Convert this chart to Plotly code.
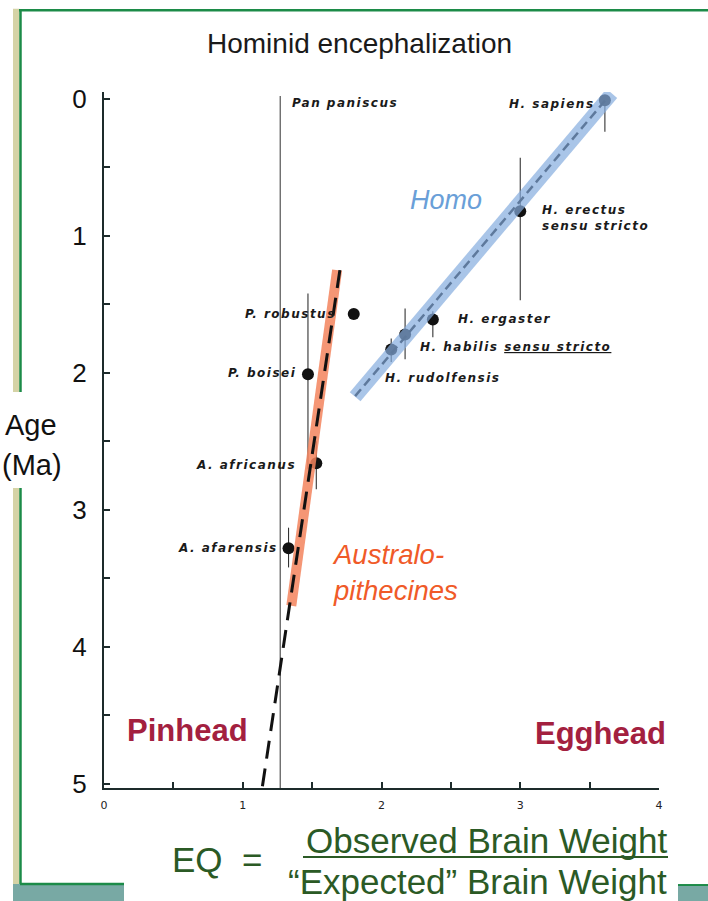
import plotly.graph_objects as go

# ---------------- data ----------------
species = ["H. sapiens", "H. erectus", "H. ergaster", "H. habilis", "H. rudolfensis",
           "P. robustus", "P. boisei", "A. africanus", "A. afarensis"]
eq_vals = [3.61, 3.00, 2.37, 2.17, 2.07, 1.80, 1.47, 1.53, 1.33]
age_vals = [0.01, 0.82, 1.61, 1.72, 1.83, 1.57, 2.01, 2.66, 3.28]
age_lo = [0.00, 0.43, 1.55, 1.53, 1.75, None, 1.42, 2.50, 3.13]
age_hi = [0.24, 1.47, 1.74, 1.90, 1.92, None, 2.70, 2.85, 3.42]

pan_eq = [1.27, 1.27]
pan_age = [-0.02, 5.03]

homo_band_eq = [1.81, 3.66]
homo_band_age = [2.175, -0.04]
homo_trend_eq = [1.81, 3.63]
homo_trend_age = [2.17, -0.01]

aus_band_eq = [1.68, 1.35]
aus_band_age = [1.25, 3.70]
aus_trend_eq = [1.70, 1.14]
aus_trend_age = [1.25, 5.03]

x_ticks = [0, 1, 2, 3, 4]
y_ticks = [0, 1, 2, 3, 4, 5]

# label text, EQ, age, anchor
species_labels = [
    ("Pan paniscus", 1.34, 0.03, "left"),
    ("H. sapiens", 3.55, 0.04, "right"),
    ("H. erectus<br>sensu stricto", 3.14, 0.87, "left"),
    ("P. robustus", 1.69, 1.57, "right"),
    ("H. ergaster", 2.54, 1.61, "left"),
    ("H. habilis <u>sensu stricto</u>", 2.26, 1.81, "left"),
    ("P. boisei", 1.40, 2.00, "right"),
    ("H. rudolfensis", 2.01, 2.04, "left"),
    ("A. africanus", 1.40, 2.67, "right"),
    ("A. afarensis", 1.27, 3.28, "right"),
]

# ---------------- geometry (pixels) ----------------
W, H = 708, 901
PL, PR, PT, PB = 104, 659, 92.2, 788
X_RANGE = [0, 4]
Y_RANGE = [5.03, -0.05]


def px(x):
    return (x - PL) / (PR - PL)


def py(y):
    return (PB - y) / (PB - PT)


fig = go.Figure()

# range bars
ex, ey = [], []
for e, lo, hi in zip(eq_vals, age_lo, age_hi):
    if lo is None:
        continue
    ex += [e, e, None]
    ey += [lo, hi, None]
fig.add_trace(go.Scatter(x=ex, y=ey, mode="lines",
                         line=dict(color="#333333", width=1.1), hoverinfo="skip"))
fig.add_trace(go.Scatter(x=pan_eq, y=pan_age, mode="lines",
                         line=dict(color="#444444", width=1.1), hoverinfo="skip"))

# points
fig.add_trace(go.Scatter(x=eq_vals, y=age_vals, mode="markers", text=species,
                         marker=dict(color="#111111", size=12)))

# Homo trend
fig.add_trace(go.Scatter(x=homo_trend_eq, y=homo_trend_age, mode="lines",
                         line=dict(color="#000000", width=2.5, dash="9px,5px")))
fig.add_trace(go.Scatter(x=homo_band_eq, y=homo_band_age, mode="lines", opacity=0.7,
                         line=dict(color="#86ADDF", width=14)))

# Australopithecine trend
fig.add_trace(go.Scatter(x=aus_band_eq, y=aus_band_age, mode="lines", opacity=0.85,
                         line=dict(color="#F4845E", width=10)))
fig.add_trace(go.Scatter(x=aus_trend_eq, y=aus_trend_age, mode="lines",
                         line=dict(color="#111111", width=3, dash="18px,10px")))

SP = '<span style="letter-spacing:1.5px">'
ann = []
for text, x, y, anc in species_labels:
    ann.append(dict(x=x, y=y, text=SP + text.replace("<br>", "</span><br>" + SP) + "</span>",
                    xanchor=anc, yanchor="middle", align="left",
                    showarrow=False,
                    font=dict(family="DejaVu Sans", size=12, style="italic", weight="bold",
                              color="#1a1a1a")))

ann += [
    dict(x=2.19, y=0.74, text="Homo", xanchor="left", yanchor="middle", showarrow=False,
         font=dict(family="Liberation Sans", size=27, style="italic", color="#6A9FD8")),
    dict(x=1.63, y=3.455, text="Australo-<br>pithecines", xanchor="left", yanchor="middle",
         align="left", showarrow=False,
         font=dict(family="Liberation Sans", size=27.5, style="italic", color="#F05A28")),
    dict(x=0.605, y=4.61, text="<b>Pinhead</b>", showarrow=False, xanchor="center",
         yanchor="middle", font=dict(family="Liberation Sans", size=31, color="#A3203F")),
    dict(x=3.58, y=4.63, text="<b>Egghead</b>", showarrow=False, xanchor="center",
         yanchor="middle", font=dict(family="Liberation Sans", size=31, color="#A3203F")),
]

# paper-level texts
green = "#2B5A25"
ann += [
    dict(xref="paper", yref="paper", x=px(359), y=py(44), text="Hominid encephalization",
         xanchor="center", yanchor="middle", showarrow=False,
         font=dict(family="Liberation Sans", size=28, color="#1a1a1a")),
    dict(xref="paper", yref="paper", x=px(59), y=py(425), xanchor="right", yanchor="middle",
         text="Age", showarrow=False,
         font=dict(family="Liberation Sans", size=29, color="#111111")),
    dict(xref="paper", yref="paper", x=px(64), y=py(465), xanchor="right", yanchor="middle",
         text="(Ma)", showarrow=False,
         font=dict(family="Liberation Sans", size=29, color="#111111")),
    dict(xref="paper", yref="paper", x=px(170), y=py(859), text="EQ  =", xanchor="left",
         yanchor="middle",
         showarrow=False, font=dict(family="Liberation Sans", size=35, color=green)),
    dict(xref="paper", yref="paper", x=px(486), y=py(840), text="Observed Brain Weight",
         xanchor="center", yanchor="middle",
         showarrow=False, font=dict(family="Liberation Sans", size=35, color=green)),
    dict(xref="paper", yref="paper", x=px(477), y=py(881), text="“Expected” Brain Weight",
         xanchor="center", yanchor="middle",
         showarrow=False, font=dict(family="Liberation Sans", size=35, color=green)),
]

fgreen = "#1C8B48"
khaki = "#D5D3A6"
teal = "#78A9A4"
shapes = [
    dict(type="rect", xref="paper", yref="paper", x0=px(13), x1=px(19.5), y0=py(884), y1=py(9),
         fillcolor=khaki, line_width=0),
    dict(type="rect", xref="paper", yref="paper", x0=px(13), x1=px(124), y0=py(901), y1=py(884),
         fillcolor=teal, line_width=0),
    dict(type="rect", xref="paper", yref="paper", x0=px(678), x1=px(708), y0=py(901), y1=py(885),
         fillcolor=teal, line_width=0),
    dict(type="line", xref="paper", yref="paper", x0=px(19), x1=px(708), y0=py(10.5), y1=py(10.5),
         line=dict(color=fgreen, width=2.5)),
    dict(type="line", xref="paper", yref="paper", x0=px(20.5), x1=px(20.5), y0=py(884), y1=py(10),
         line=dict(color=fgreen, width=2.5)),
    dict(type="line", xref="paper", yref="paper", x0=px(20), x1=px(124), y0=py(884), y1=py(884),
         line=dict(color=fgreen, width=2.5)),
    dict(type="line", xref="paper", yref="paper", x0=px(678), x1=px(708), y0=py(885), y1=py(885),
         line=dict(color=fgreen, width=2)),
    # white box behind the Age label
    dict(type="rect", xref="paper", yref="paper", x0=px(0), x1=px(64), y0=py(488), y1=py(392),
         fillcolor="white", line_width=0),
    # fraction bar
    dict(type="line", xref="paper", yref="paper", x0=px(303), x1=px(668), y0=py(857), y1=py(857),
         line=dict(color=green, width=2)),
]

axis_common = dict(showgrid=False, zeroline=False, showline=True, linecolor="#1d2b2b",
                   linewidth=2, ticks="inside", ticklen=6, tickwidth=1.5, tickcolor="#1d2b2b",
                   minor=dict(dtick=0.5, ticks="inside", ticklen=6, tickwidth=1.5,
                              tickcolor="#1d2b2b"))

fig.update_layout(
    width=W, height=H,
    margin=dict(l=PL, r=W - PR, t=PT, b=H - PB, pad=0),
    paper_bgcolor="white", plot_bgcolor="white",
    showlegend=False,
    annotations=ann, shapes=shapes,
    xaxis=dict(range=X_RANGE, tickvals=x_ticks, ticktext=[str(v) for v in x_ticks],
               tickfont=dict(family="DejaVu Sans", size=11, color="#222222"),
               ticklabelstandoff=6,
               **axis_common),
    yaxis=dict(range=Y_RANGE, tickvals=y_ticks, ticktext=[str(v) for v in y_ticks],
               tickfont=dict(family="Liberation Sans", size=26, color="#111111"),
               ticklabelstandoff=10,
               **axis_common),
)

fig.write_html("out.html", config={"displayModeBar": False})

# remove the default page margin so the figure sits at the window's top-left corner
with open("out.html", encoding="utf-8") as f:
    html = f.read()
html = html.replace("<body>", '<body style="margin:0;padding:0;">', 1)
with open("out.html", "w", encoding="utf-8") as f:
    f.write(html)
